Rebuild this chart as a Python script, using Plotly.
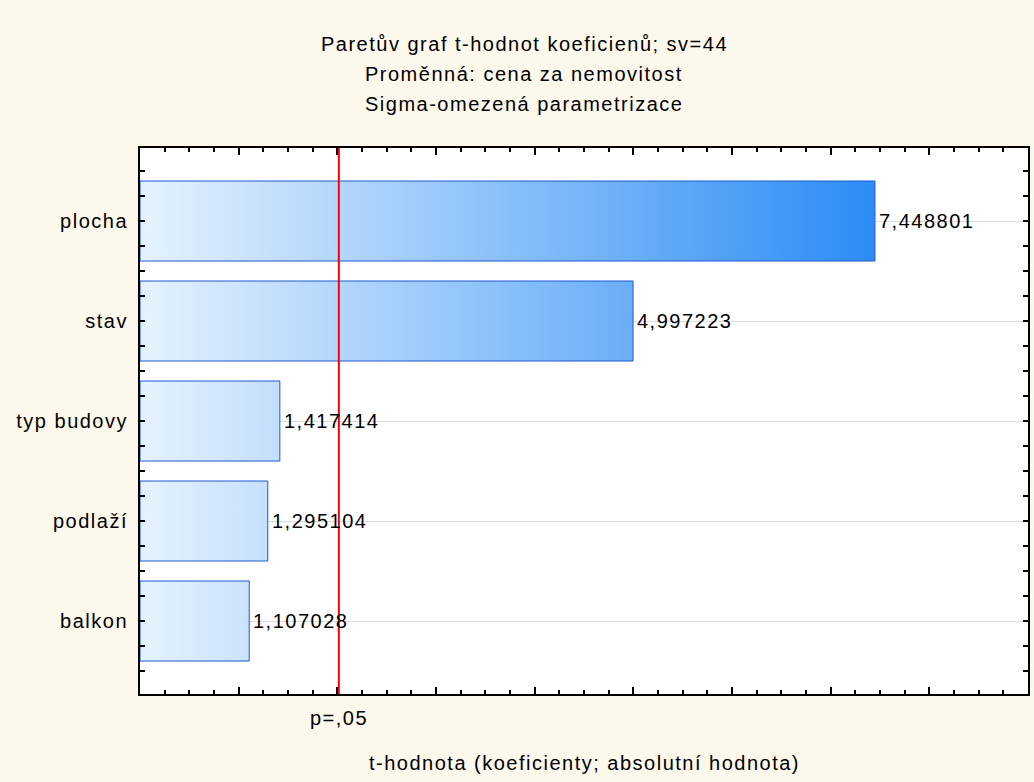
import plotly.graph_objects as go

categories = ["plocha", "stav", "typ budovy", "podlaží", "balkon"]
t_values = [7.448801, 4.997223, 1.417414, 1.295104, 1.107028]
t_crit = 2.015368
title_lines = ["Paretův graf t-hodnot koeficienů; sv=44",
               "Proměnná: cena za nemovitost",
               "Sigma-omezená parametrizace"]
x_title = "t-hodnota (koeficienty; absolutní hodnota)"
p_label = "p=,05"

FONT = "Liberation Sans, Arial, sans-serif"
BG = "#FDF8EC"
FS = 20
half = 0.4


def sp(s, ls=1.5):
    return f'<span style="letter-spacing:{ls}px">{s}</span>'


fig = go.Figure()
vmax = max(t_values)
for i, (c, v) in enumerate(zip(categories, t_values)):
    fig.add_trace(go.Scatter(
        x=[0, v, v, 0, 0], y=[i - half, i - half, i + half, i + half, i - half],
        mode="lines", fill="toself",
        fillgradient=dict(type="horizontal", colorscale=[[0, "#e6f2fe"], [1, "#2b8cf5"]],
                          start=0, stop=vmax),
        line=dict(color="#1d58d2", width=1), hoverinfo="skip", showlegend=False))
    fig.add_annotation(x=v, y=i, xref="x", yref="y", xanchor="left", yanchor="middle",
                       xshift=2, text=sp(f"{v:.6f}".replace(".", ",")), showarrow=False,
                       font=dict(family=FONT, size=FS, color="black"))

fig.add_shape(type="line", x0=t_crit, x1=t_crit, xref="x", yref="paper", y0=0, y1=1,
              line=dict(color="#ff0000", width=2))

fig.add_annotation(x=t_crit, xref="x", y=0, yref="paper", yshift=-24, yanchor="middle",
                   text=sp(p_label), showarrow=False,
                   font=dict(family=FONT, size=FS, color="black"))
fig.add_annotation(x=0.5, xref="paper", y=0, yref="paper", yshift=-69, yanchor="middle",
                   text=sp(x_title), showarrow=False,
                   font=dict(family=FONT, size=FS, color="black"))
for k, line in enumerate(title_lines):
    fig.add_annotation(x=0.4325, xref="paper", y=1, yref="paper", yshift=104 - 30 * k,
                       yanchor="middle", text=sp(line), showarrow=False,
                       font=dict(family=FONT, size=FS, color="black"))

fig.update_layout(
    width=1034, height=782,
    margin=dict(l=140, r=4, t=148, b=88),
    paper_bgcolor=BG, plot_bgcolor="white",
    font=dict(family=FONT, size=FS, color="black"),
    showlegend=False,
    xaxis=dict(range=[0, 9], tick0=0, dtick=1, ticks="inside", ticklen=7, tickwidth=2,
               tickcolor="black", showticklabels=False, showgrid=False, zeroline=False,
               showline=True, linecolor="black", linewidth=2, mirror="ticks",
               minor=dict(tick0=0, dtick=0.25, ticks="inside", ticklen=4, tickwidth=2,
                          tickcolor="black", showgrid=False)),
    yaxis=dict(range=[len(categories) - 1 + 0.73, -0.73],
               tickvals=list(range(len(categories))), ticktext=[sp(c) for c in categories],
               ticks="inside", ticklen=5, tickwidth=2, tickcolor="black",
               showgrid=True, gridcolor="#dcdcdc", gridwidth=1, zeroline=False,
               showline=True, linecolor="black", linewidth=2, mirror="ticks",
               ticklabelstandoff=6,
               tickfont=dict(family=FONT, size=FS, color="black"),
               minor=dict(tick0=0, dtick=0.25, ticks="inside", ticklen=5, tickwidth=2,
                          tickcolor="black", showgrid=False)),
)

fig.write_html("out.html", config={"displayModeBar": False},
               post_script="document.body.style.margin='0';")
